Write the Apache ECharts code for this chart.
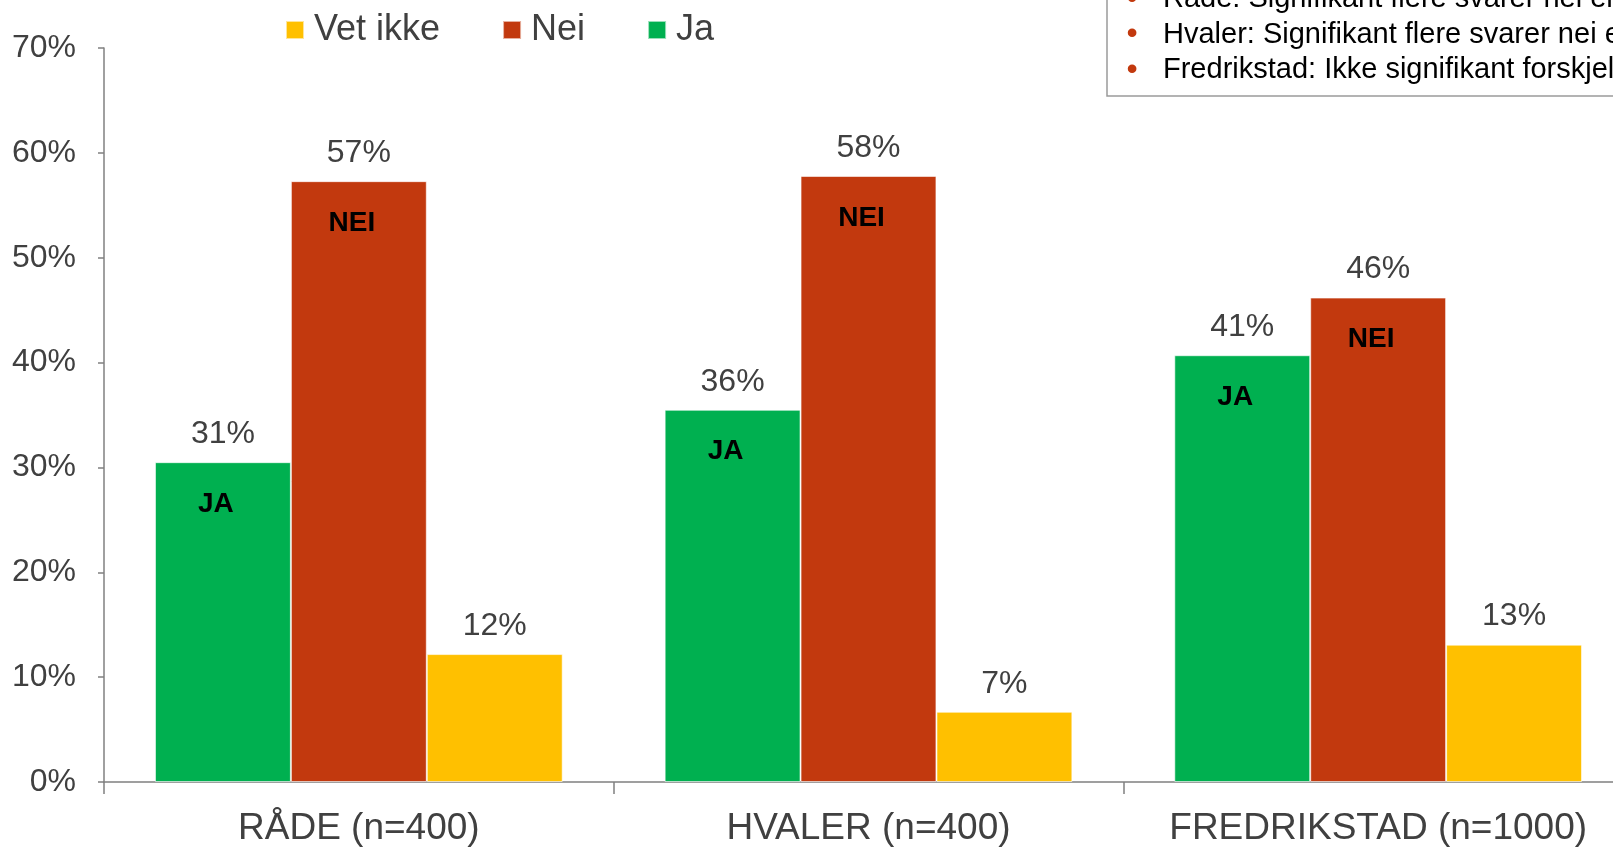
<!DOCTYPE html>
<html>
<head>
<meta charset="utf-8">
<script src="https://cdn.jsdelivr.net/npm/echarts@6/dist/echarts.min.js"></script>
<style>
html,body{margin:0;padding:0;background:#fff;overflow:hidden;width:1613px;height:847px;}
#chart{width:1633px;height:847px;}
</style>
</head>
<body>
<div id="chart"></div>
<script>
const categories = ['RÅDE (n=400)', 'HVALER (n=400)', 'FREDRIKSTAD (n=1000)'];
const jaValues = [30.5, 35.5, 40.7];
const neiValues = [57.3, 57.8, 46.2];
const vetIkkeValues = [12.2, 6.7, 13.1];
const yTicks = [0, 10, 20, 30, 40, 50, 60, 70];
const noteLines = [
  'Råde: Signifikant flere svarer nei enn ja',
  'Hvaler: Signifikant flere svarer nei enn ja',
  'Fredrikstad: Ikke signifikant forskjell'
];

const FONT = "'Liberation Sans', Arial, sans-serif";
const TXT = '#404040';
const C_JA = '#00B050', C_NEI = '#C2390E', C_VET = '#FFC000';

function innerLabel(tag) {
  return {
    show: true,
    position: 'insideTop',
    distance: 0,
    offset: [0, -44],
    formatter: p => '{v|' + Math.round(p.value) + '%}\n{n|' + tag + '}',
    rich: {
      v: { fontSize: 32, lineHeight: 32, color: TXT, fontFamily: FONT },
      n: { fontSize: 28, lineHeight: 108, color: '#000', fontWeight: 'bold', fontFamily: FONT, padding: [0, 14, 0, 0] }
    }
  };
}

const chart = echarts.init(document.getElementById('chart'));
const graphics = [{
  type: 'rect',
  shape: { x: 1107, y: -20, width: 600, height: 116 },
  style: { fill: '#fff', stroke: '#9a9a9a', lineWidth: 1.5 },
  z: 10
}];
noteLines.forEach((t, i) => {
  const y = -1 + i * 35.5;
  graphics.push({ type: 'text', x: 1132, y: y, z: 11,
    style: { text: '•', fill: C_NEI, font: '32px ' + FONT, textAlign: 'center', textVerticalAlign: 'middle' } });
  graphics.push({ type: 'text', x: 1163, y: y, z: 11,
    style: { text: t, fill: '#000', font: '29px ' + FONT, textAlign: 'left', textVerticalAlign: 'middle' } });
});

chart.setOption({
  animation: false,
  backgroundColor: '#fff',
  textStyle: { fontFamily: FONT },
  grid: { left: 104, right: 0, top: 48, bottom: 65, containLabel: false },
  legend: {
    data: ['Vet ikke', 'Nei', 'Ja'],
    left: 280, top: 7,
    icon: 'rect', itemWidth: 18, itemHeight: 18, itemGap: 62,
    textStyle: { fontSize: 36, color: TXT, fontFamily: FONT, padding: [0, 0, 0, 5] }
  },
  xAxis: {
    type: 'category',
    data: categories,
    axisLine: { lineStyle: { color: '#808080', width: 1.5 } },
    axisTick: { show: true, length: 12, lineStyle: { color: '#808080', width: 1.5 } },
    axisLabel: { fontSize: 37, lineHeight: 37, color: TXT, margin: 28, fontFamily: FONT, interval: 0 }
  },
  yAxis: {
    type: 'value',
    min: 0, max: 70, interval: 10,
    splitLine: { show: false },
    axisLine: { show: true, lineStyle: { color: '#808080', width: 1.5 } },
    axisTick: { show: true, length: 6, lineStyle: { color: '#808080', width: 1.5 } },
    axisLabel: { fontSize: 32, color: TXT, margin: 28, fontFamily: FONT,
      formatter: v => (yTicks.indexOf(v) >= 0 ? v + '%' : '') }
  },
  series: [
    { name: 'Ja', type: 'bar', data: jaValues, barGap: '0%', barCategoryGap: '20%',
      itemStyle: { color: C_JA, borderColor: 'rgba(255,255,255,0.6)', borderWidth: 1 },
      label: innerLabel('JA') },
    { name: 'Nei', type: 'bar', data: neiValues, barGap: '0%', barCategoryGap: '20%',
      itemStyle: { color: C_NEI, borderColor: 'rgba(255,255,255,0.6)', borderWidth: 1 },
      label: innerLabel('NEI') },
    { name: 'Vet ikke', type: 'bar', data: vetIkkeValues, barGap: '0%', barCategoryGap: '20%',
      itemStyle: { color: C_VET, borderColor: 'rgba(255,255,255,0.6)', borderWidth: 1 },
      label: { show: true, position: 'top', distance: 12, fontSize: 32, lineHeight: 32, color: TXT, fontFamily: FONT,
        formatter: p => Math.round(p.value) + '%' } }
  ],
  graphic: graphics
});
</script>
</body>
</html>
